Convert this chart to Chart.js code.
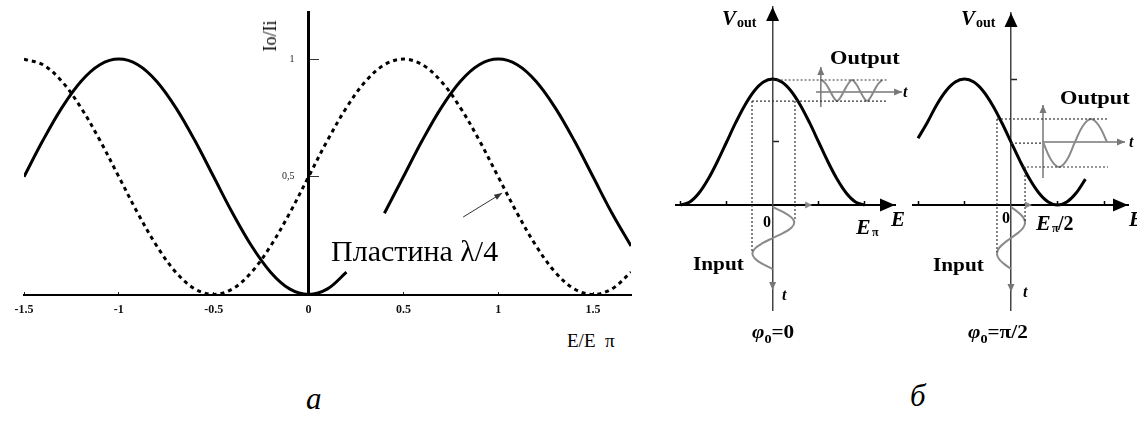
<!DOCTYPE html>
<html lang="ru">
<head>
<meta charset="utf-8">
<title>Модуляция интенсивности</title>
<script src="https://cdn.jsdelivr.net/npm/chart.js@4.4.1/dist/chart.umd.min.js"></script>
<style>
  html, body { margin: 0; padding: 0; background: #fff; }
  body { width: 1137px; height: 432px; position: relative; overflow: hidden;
         font-family: 'Liberation Serif', 'Times New Roman', serif; color: #000; }
  .box { position: absolute; }
  .lbl { position: absolute; line-height: 1; white-space: pre; }
  .b { font-weight: bold; }
  .i { font-style: italic; }
  .wide { transform: scaleX(1.18); transform-origin: left top; }
  .sub { position: relative; top: 5px; font-size: 12px; }
</style>
</head>
<body>
<div class="box" style="left:0;top:0;width:640px;height:330px"><canvas id="chart-a"></canvas></div>
<div class="box" style="left:656px;top:0;width:250px;height:320px"><canvas id="chart-b1"></canvas></div>
<div class="box" style="left:905px;top:0;width:232px;height:320px"><canvas id="chart-b2"></canvas></div>

<!-- подписи панели а -->
<div class="lbl" style="left:270px;top:36px;font-size:18px;transform:translate(-50%,-50%) rotate(-90deg)">Io/Ii</div>
<div class="lbl" style="left:567px;top:331px;font-size:19px">E/E  π</div>
<div class="lbl" style="left:331px;top:236px;font-size:30px">Пластина λ/4</div>
<div class="lbl i" style="left:306px;top:383px;font-size:31px">а</div>

<!-- подписи панели б, φ0 = 0 -->
<div class="lbl b i" style="left:722px;top:8px;font-size:21px">V</div>
<div class="lbl b" style="left:737px;top:16px;font-size:14px">out</div>
<div class="lbl b wide" style="left:830px;top:48px;font-size:19px">Output</div>
<div class="lbl b" style="left:763px;top:214px;font-size:16px">0</div>
<div class="lbl b i" style="left:856px;top:216px;font-size:22px">E</div>
<div class="lbl b" style="left:872px;top:226px;font-size:12px">π</div>
<div class="lbl b i" style="left:891px;top:209px;font-size:21px">E</div>
<div class="lbl b wide" style="left:693px;top:255px;font-size:18px">Input</div>
<div class="lbl b i" style="left:782px;top:287px;font-size:16px">t</div>
<div class="lbl b i" style="left:903px;top:84px;font-size:16px">t</div>
<div class="lbl b wide" style="left:752px;top:323px;font-size:18px"><span class="i">φ</span><span class="sub">0</span>=0</div>

<!-- подписи панели б, φ0 = π/2 -->
<div class="lbl b i" style="left:961px;top:8px;font-size:21px">V</div>
<div class="lbl b" style="left:976px;top:16px;font-size:14px">out</div>
<div class="lbl b wide" style="left:1060px;top:88px;font-size:19px">Output</div>
<div class="lbl b" style="left:1002px;top:210px;font-size:16px">0</div>
<div class="lbl b i" style="left:1036px;top:212px;font-size:22px">E</div>
<div class="lbl b" style="left:1052px;top:222px;font-size:12px">π</div>
<div class="lbl b" style="left:1058px;top:213px;font-size:20px">/2</div>
<div class="lbl b i" style="left:1129px;top:209px;font-size:21px">E</div>
<div class="lbl b wide" style="left:933px;top:256px;font-size:18px">Input</div>
<div class="lbl b i" style="left:1023px;top:284px;font-size:16px">t</div>
<div class="lbl b i" style="left:1129px;top:134px;font-size:16px">t</div>
<div class="lbl b wide" style="left:968px;top:323px;font-size:18px"><span class="i">φ</span><span class="sub">0</span>=π/2</div>
<div class="lbl i" style="left:910px;top:380px;font-size:31px">б</div>

<script>
// ===== панель а: Io/Ii в зависимости от E/Eπ =====
const eRatio = [-1.5, -1.4, -1.3, -1.2, -1.1, -1.0, -0.9, -0.8, -0.7, -0.6, -0.5, -0.4, -0.3, -0.2, -0.1, 0,
                0.1, 0.2, 0.3, 0.4, 0.5, 0.6, 0.7, 0.8, 0.9, 1.0, 1.1, 1.2, 1.3, 1.4, 1.5, 1.6, 1.7];
// без пластины (сплошная), разрыв под подписью
const intensityNoPlate = [0.5, 0.655, 0.794, 0.905, 0.976, 1, 0.976, 0.905, 0.794, 0.655, 0.5, 0.345, 0.206, 0.095, 0.024, 0,
                          0.024, 0.095, null, 0.345, 0.5, 0.655, 0.794, 0.905, 0.976, 1, 0.976, 0.905, 0.794, 0.655, 0.5, 0.345, 0.206];
// с пластиной λ/4 (пунктир)
const intensityQuarterWave = [1, 0.976, 0.905, 0.794, 0.655, 0.5, 0.345, 0.206, 0.095, 0.024, 0, 0.024, 0.095, 0.206, 0.345, 0.5,
                              0.655, 0.794, 0.905, 0.976, 1, 0.976, 0.905, 0.794, 0.655, 0.5, 0.345, 0.206, 0.095, 0.024, 0, 0.024, 0.095];
const xTicksA = [-1.5, -1, -0.5, 0, 0.5, 1, 1.5];
const xTickLabelsA = ['-1.5', '-1', '-0.5', '0', '0.5', '1', '1.5'];
const yTicksA = [0.5, 1];
const yTickLabelsA = ['0,5', '1'];
const plateArrow = [[0.815, 0.329], [1.021, 0.431]];

// ===== панель б: передаточная характеристика, φ0 = 0 =====
const bellE0 = [-1, -0.9, -0.8, -0.7, -0.6, -0.5, -0.4, -0.3, -0.2, -0.1, 0, 0.1, 0.2, 0.3, 0.4, 0.5, 0.6, 0.7, 0.8, 0.9, 1];
const bellV0 = [0, 0.024, 0.095, 0.206, 0.345, 0.5, 0.655, 0.794, 0.905, 0.976, 1, 0.976, 0.905, 0.794, 0.655, 0.5, 0.345, 0.206, 0.095, 0.024, 0];
const inputT = [-0.016, -0.057, -0.098, -0.139, -0.180, -0.221, -0.262, -0.303, -0.344, -0.385, -0.426, -0.467, -0.508];
const inputE0 = [0, 0.118, 0.204, 0.236, 0.204, 0.118, 0, -0.11, -0.19, -0.22, -0.19, -0.11, 0];
const outputT0 = [0.537, 0.580, 0.624, 0.667, 0.700, 0.733, 0.776, 0.820, 0.863, 0.907, 0.950, 0.993, 1.026, 1.059, 1.102, 1.146, 1.189];
const outputV0 = [0.992, 0.960, 0.905, 0.849, 0.825, 0.849, 0.905, 0.960, 0.992, 0.960, 0.905, 0.849, 0.825, 0.849, 0.905, 0.960, 0.992];
const guides0 = [
  [[0, 0.992], [1.254, 0.992]],
  [[-0.224, 0.825], [1.254, 0.825]],
  [[-0.224, 0.825], [-0.224, -0.373]],
  [[0.243, 0.825], [0.243, -0.127]]
];
const outAxes0 = [
  [[0.524, 0.778], [0.524, 1.095]],
  [[0.472, 0.897], [1.407, 0.897]]
];
const eTicks0 = [-1, -0.5, 0.5, 1];
const vTicks0 = [0.5];

// ===== панель б: φ0 = π/2 =====
const bellE90 = [-1, -0.9, -0.8, -0.7, -0.6, -0.5, -0.4, -0.3, -0.2, -0.1, 0, 0.1, 0.2, 0.3, 0.4, 0.5, 0.6, 0.7, 0.8];
const bellV90 = [0.53, 0.655, 0.794, 0.905, 0.976, 1, 0.976, 0.905, 0.794, 0.655, 0.5, 0.345, 0.206, 0.095, 0.024, 0, 0.024, 0.095, 0.206];
const inputE90 = [0, 0.075, 0.131, 0.151, 0.131, 0.075, 0, -0.075, -0.131, -0.151, -0.131, -0.075, 0];
const outputT90 = [0.344, 0.430, 0.516, 0.602, 0.688, 0.774, 0.860, 0.946, 1.032];
const outputV90 = [0.5, 0.360, 0.302, 0.360, 0.5, 0.629, 0.683, 0.629, 0.5];
const guides90 = [
  [[-0.151, 0.683], [1.043, 0.683]],
  [[0, 0.492], [0.344, 0.492]],
  [[0.129, 0.302], [1.043, 0.302]],
  [[-0.151, 0.683], [-0.151, -0.373]],
  [[0.151, 0.302], [0.151, -0.143]]
];
const outAxes90 = [
  [[0.344, 0.214], [0.344, 0.794]],
  [[0.344, 0.5], [1.226, 0.5]]
];
const eTicks90 = [-1, -0.5, 0.5, 1];
const vTicks90 = [1];

const GREY = '#8a8a8a';
Chart.defaults.font.family = "'Liberation Serif', 'Times New Roman', serif";

function pts(xs, ys) { return xs.map((x, i) => ({x: x, y: ys[i]})); }
function seg(pairs) { return pairs.map(p => ({x: p[0], y: p[1]})); }

// треугольная стрелка с остриём в (tx, ty)
function drawHead(ctx, fx, fy, tx, ty, len, half, color) {
    const ang = Math.atan2(ty - fy, tx - fx);
    ctx.save();
    ctx.translate(tx, ty);
    ctx.rotate(ang);
    ctx.beginPath();
    ctx.moveTo(0, 0);
    ctx.lineTo(-len, -half);
    ctx.lineTo(-len, half);
    ctx.closePath();
    ctx.fillStyle = color;
    ctx.fill();
    ctx.restore();
}

// стрелки на концах наборов данных, у которых задано поле tip
const tipPlugin = {
    id: 'tips',
    afterDatasetsDraw(chart) {
        const ctx = chart.ctx;
        chart.data.datasets.forEach((ds, i) => {
            if (!ds.tip) return;
            const p = chart.getDatasetMeta(i).data;
            const a = p[p.length - 2], b = p[p.length - 1];
            drawHead(ctx, a.x, a.y, b.x, b.y, ds.tip.len, ds.tip.half, ds.tip.color);
        });
    }
};

// стрелки на осях E и Vout
const axisArrowPlugin = {
    id: 'axisArrows',
    afterDraw(chart, args, opts) {
        if (!opts.show) return;
        const x = chart.scales.x, y = chart.scales.y;
        const x0 = x.getPixelForValue(0), y0 = y.getPixelForValue(0);
        drawHead(chart.ctx, x.right - 10, y0, x.right, y0, 15, 6.5, '#000');
        drawHead(chart.ctx, x0, y.top + 10, x0, y.top, 14, 6.5, '#000');
    }
};

// подписи делений оси Io/Ii слева от оси
const yLabelPlugin = {
    id: 'yLabels',
    afterDraw(chart, args, opts) {
        if (!opts.values) return;
        const ctx = chart.ctx, x = chart.scales.x, y = chart.scales.y;
        const x0 = x.getPixelForValue(0);
        ctx.save();
        ctx.font = "10px 'Liberation Serif', serif";
        ctx.fillStyle = '#222';
        ctx.textAlign = 'right';
        ctx.textBaseline = 'middle';
        opts.values.forEach((v, i) => ctx.fillText(opts.labels[i], x0 - 14, y.getPixelForValue(v)));
        ctx.restore();
    }
};

Chart.register(tipPlugin, axisArrowPlugin, yLabelPlugin);

function baseOptions(padding) {
    return {
        responsive: true,
        maintainAspectRatio: false,
        animation: false,
        events: [],
        layout: {padding: padding},
        elements: {point: {radius: 0}, line: {borderCapStyle: 'butt'}},
        plugins: {legend: {display: false}, tooltip: {enabled: false}}
    };
}

// ---------- панель а ----------
const optsA = baseOptions({left: 24, right: 9, top: 12, bottom: 35.5});
optsA.plugins.yLabels = {values: yTicksA, labels: yTickLabelsA};
optsA.scales = {
    x: {
        type: 'linear', min: -1.5, max: 1.7, position: {y: 0},
        border: {display: true, color: '#000', width: 2},
        grid: {drawOnChartArea: false, drawTicks: true, tickLength: -4, tickColor: '#222', tickWidth: 1},
        afterBuildTicks: s => { s.ticks = xTicksA.map(v => ({value: v})); },
        ticks: {
            autoSkip: false, maxRotation: 0, padding: 12, color: '#111',
            font: {size: 12, weight: 'bold'},
            callback: (v, i) => xTickLabelsA[i]
        }
    },
    y: {
        type: 'linear', min: 0, max: 1.2, position: {x: 0},
        border: {display: true, color: '#000', width: 3},
        grid: {drawOnChartArea: false, drawTicks: true, tickLength: -12, tickColor: '#333', tickWidth: 1},
        afterBuildTicks: s => { s.ticks = yTicksA.map(v => ({value: v})); },
        ticks: {display: false}
    }
};

new Chart(document.getElementById('chart-a'), {
    type: 'line',
    data: {
        datasets: [
            {
                label: 'без пластины',
                data: pts(eRatio, intensityNoPlate),
                borderColor: '#000', borderWidth: 3, tension: 0.35, spanGaps: false
            },
            {
                label: 'пластина λ/4',
                data: pts(eRatio, intensityQuarterWave),
                borderColor: '#000', borderWidth: 3, borderDash: [4, 4], tension: 0.35
            },
            {
                label: 'указатель',
                data: seg(plateArrow),
                borderColor: '#333', borderWidth: 1,
                tip: {len: 8, half: 3, color: '#333'}
            }
        ]
    },
    options: optsA
});

// ---------- панель б ----------
function panelB(canvasId, padding, yRange, eRange, d) {
    const opts = baseOptions(padding);
    opts.plugins.axisArrows = {show: true};
    opts.scales = {
        x: {
            type: 'linear', min: eRange[0], max: eRange[1], position: {y: 0},
            border: {display: true, color: '#000', width: 2},
            grid: {drawOnChartArea: false, drawTicks: true, tickLength: -5, tickColor: '#000', tickWidth: 1.5},
            afterBuildTicks: s => { s.ticks = d.eTicks.map(v => ({value: v})); },
            ticks: {display: false}
        },
        y: {
            type: 'linear', min: yRange[0], max: yRange[1], position: {x: 0},
            border: {display: true, color: '#444', width: 1.5},
            grid: {drawOnChartArea: false, drawTicks: true, tickLength: -7, tickColor: '#222', tickWidth: 1.5},
            afterBuildTicks: s => { s.ticks = d.vTicks.map(v => ({value: v})); },
            ticks: {display: false}
        }
    };

    const datasets = [];
    d.guides.forEach(g => datasets.push({
        data: seg(g), borderColor: '#333', borderWidth: 1.2, borderDash: [2, 2], clip: false
    }));
    datasets.push({data: pts(d.bellE, d.bellV), borderColor: '#000', borderWidth: 3, tension: 0.35, clip: false});
    datasets.push({data: pts(d.inputE, inputT), borderColor: GREY, borderWidth: 2, tension: 0.4, clip: false});
    datasets.push({data: pts(d.outT, d.outV), borderColor: GREY, borderWidth: 2, tension: 0.4, clip: false});
    d.outAxes.forEach(a => datasets.push({
        data: seg(a), borderColor: '#777', borderWidth: 1.5, clip: false,
        tip: {len: 8, half: 3.5, color: '#777'}
    }));
    // стрелка оси t под осью E и метка на оси E
    datasets.push({data: seg([[0, -0.6], [0, d.tArrow]]), borderColor: 'transparent', borderWidth: 0, clip: false,
                   tip: {len: 8, half: 3.5, color: '#777'}});
    datasets.push({data: seg([[d.eMark - 0.07, 0], [d.eMark, 0]]), borderColor: 'transparent', borderWidth: 0, clip: false,
                   tip: {len: 7, half: 3.5, color: GREY}});

    new Chart(document.getElementById(canvasId), {
        type: 'line',
        data: {datasets: datasets},
        options: opts
    });
}

panelB('chart-b1', {left: 20, right: 11, top: 7, bottom: 10}, [-0.833, 1.571], [-1.05, 1.33], {
    bellE: bellE0, bellV: bellV0, inputE: inputE0, outT: outputT0, outV: outputV0,
    guides: guides0, outAxes: outAxes0, eTicks: eTicks0, vTicks: vTicks0, tArrow: -0.675, eMark: 0.43
});
panelB('chart-b2', {left: 8, right: 9, top: 13, bottom: 10}, [-0.833, 1.524], [-1.054, 1.258], {
    bellE: bellE90, bellV: bellV90, inputE: inputE90, outT: outputT90, outV: outputV90,
    guides: guides90, outAxes: outAxes90, eTicks: eTicks90, vTicks: vTicks90, tArrow: -0.69, eMark: 0.226
});
</script>
</body>
</html>
